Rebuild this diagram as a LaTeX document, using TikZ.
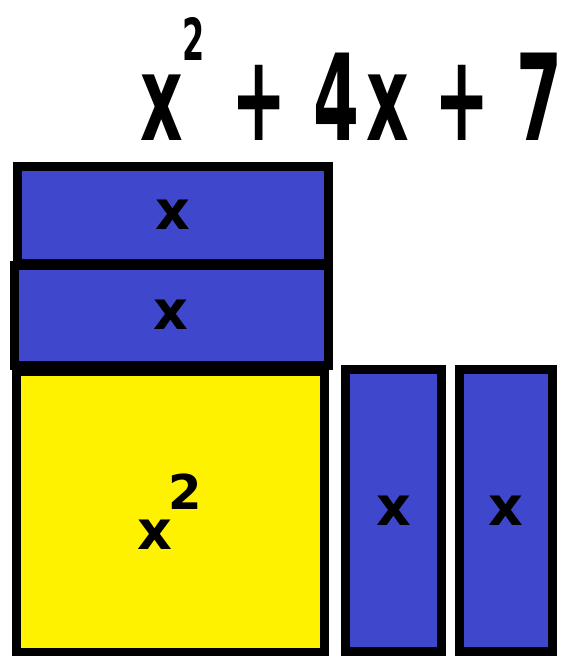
\documentclass[tikz,border=0pt]{standalone}
\usepackage{fontspec}
\setmainfont{DejaVu Sans}
\definecolor{pblue}{HTML}{3F48CC}
\definecolor{pyellow}{HTML}{FFF200}
\begin{document}
\begin{tikzpicture}[x=1pt,y=-1pt,
  tile/.style={draw=black, line width=9pt, inner sep=0pt, font=\bfseries\fontsize{54}{54}\selectfont},
  bluetile/.style={tile, fill=pblue},
  yellowtile/.style={tile, fill=pyellow},
  formula/.style={inner sep=0pt, font=\bfseries\fontsize{120}{120}\selectfont}]
\useasboundingbox (0,0) rectangle (569,656);
\node[bluetile, minimum width=311pt, minimum height=97pt] (bar1) at (172.5,214.5) {x};
\node[bluetile, minimum width=314pt, minimum height=100pt] (bar2) at (171,315) {x};
\node[yellowtile, minimum width=308pt, minimum height=281pt] (sq) at (170,511.5) {x\hspace{-4pt}\raisebox{40pt}{\fontsize{48}{48}\selectfont 2}};
\node[bluetile, minimum width=96pt, minimum height=282pt] (long1) at (393.5,510.5) {x};
\node[bluetile, minimum width=93pt, minimum height=282pt] (long2) at (506,510.5) {x};
\node[formula, anchor=base west] (expr) at (140,140) {\scalebox{0.55}[1]{x\hspace{0pt}\raisebox{80pt}{\fontsize{58}{58}\selectfont 2}\hspace{49pt}+\hspace{47pt}4\hspace{14pt}x\hspace{45pt}+\hspace{50pt}7}};
\end{tikzpicture}
\end{document}
